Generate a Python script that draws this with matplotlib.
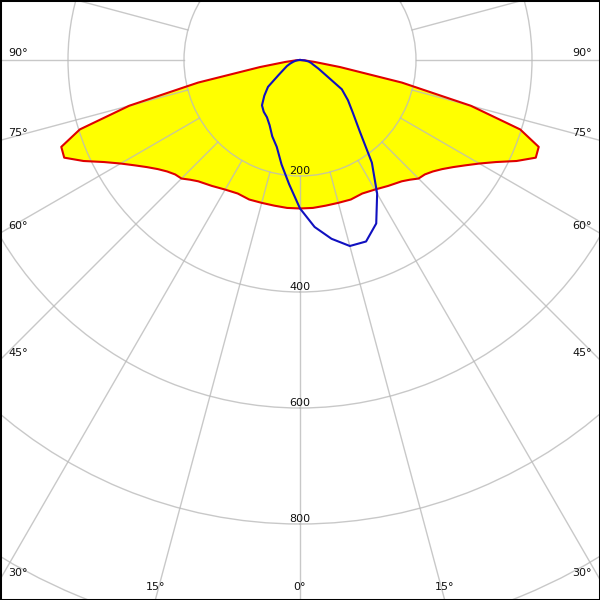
import numpy as np
import matplotlib
matplotlib.use('Agg')
import matplotlib.pyplot as plt
from matplotlib.patches import Rectangle

# ---------------- data: luminous intensity (cd) vs gamma angle (deg) ----------------
red_gamma = [0, 5, 10, 15, 20, 25, 30, 35, 40, 42.5, 45, 47.5, 50, 52.5, 55, 57.5,
             60, 62.5, 65, 67.5, 70, 72.5, 75, 77.5, 80, 82.5, 85, 90]
red_c0 = [256, 256, 255, 255, 256, 254, 258, 265, 273, 280, 289, 292, 299, 309, 322, 338,
          357, 381, 412, 440, 438, 398, 305, 180, 70, 25, 8, 0]
red_c180 = [256, 256, 255, 255, 256, 254, 258, 265, 273, 280, 289, 292, 299, 309, 322, 338,
            357, 381, 412, 440, 438, 398, 305, 180, 70, 25, 8, 0]

blue_gamma = [0, 5, 10, 15, 20, 25, 30, 35, 40, 45, 50, 55, 60, 65, 70, 75, 80, 85, 90]
blue_c90 = [256, 289, 313, 332, 333, 311, 266, 216, 160, 129, 108, 88, 50, 35, 25, 20, 15, 8, 0]
blue_c270 = [256, 215, 183, 155, 140, 124, 114, 109, 102, 87, 72, 45, 32, 25, 18, 12, 8, 4, 0]

radial_labels = [200, 400, 600, 800]
grid_circles = [200, 400, 600, 800, 1000]
angle_labels = [0, 15, 30, 45, 60, 75, 90]

# ---------------- layout ----------------
W = H = 600
CX, CY = 300, 60          # pole position in pixels (from top-left)
PX_PER_CD = 0.58
RMAX = 1100
R_PX = RMAX * PX_PER_CD

fig = plt.figure(figsize=(6, 6), dpi=100)
fig.patch.set_facecolor('white')
ax = fig.add_axes([(CX - R_PX) / W, (H - CY - R_PX) / H, 2 * R_PX / W, 2 * R_PX / H],
                  projection='polar')
ax.set_theta_zero_location('S')
ax.set_theta_direction(1)
ax.set_ylim(0, RMAX)
ax.spines['polar'].set_visible(False)
ax.set_facecolor('white')
ax.set_axisbelow(False)

# circles
ax.set_rgrids(grid_circles, labels=[''] * len(grid_circles))
ax.yaxis.grid(True, color='#bbbbbb', alpha=0.8, lw=1.0)
ax.xaxis.grid(False)
ax.set_xticks([])
ax.set_yticklabels([])

# radial lines every 15 deg, starting at the first circle
for a in range(0, 360, 15):
    t = np.deg2rad(a)
    ax.plot([t, t], [grid_circles[0], RMAX], color='#bbbbbb', alpha=0.8, lw=1.0, zorder=2.5)

# C0-C180 plane (filled)
g = np.asarray(red_gamma, dtype=float)
theta_r = np.deg2rad(np.concatenate([-g[::-1], g[1:]]))
r_r = np.concatenate([np.asarray(red_c180)[::-1], np.asarray(red_c0)[1:]])
ax.fill(theta_r, r_r, color='#ffff00', zorder=1, lw=0)
ax.plot(theta_r, r_r, color='#e00000', lw=1.5, zorder=3)

# C90-C270 plane
gb = np.asarray(blue_gamma, dtype=float)
theta_b = np.deg2rad(np.concatenate([-gb[::-1], gb[1:]]))
r_b = np.concatenate([np.asarray(blue_c270)[::-1], np.asarray(blue_c90)[1:]])
ax.plot(theta_b, r_b, color='#1010c0', lw=1.5, zorder=3)

# radial value labels
for r in radial_labels:
    ax.text(0, r, str(r), ha='center', va='bottom', fontsize=8, color='#111111', zorder=5)

# angle labels along the figure edge
for a in angle_labels:
    sides = [1] if a == 0 else [-1, 1]
    for s in sides:
        dx = s * np.sin(np.deg2rad(a))
        dy = np.cos(np.deg2rad(a))
        tx = np.inf if abs(dx) < 1e-9 else ((W - CX) / dx if dx > 0 else -CX / dx)
        ty = np.inf if dy < 1e-9 else (H - CY) / dy
        if ty <= tx:
            px, py = CX + dx * ty, H - 13
        else:
            px = 18 if s < 0 else W - 18
            py = CY + dy * tx - 7
        fig.text(px / W, 1 - py / H, f'{a}°', ha='center', va='center',
                 fontsize=8, color='#111111')

fig.add_artist(Rectangle((0, 0), 1, 1, transform=fig.transFigure, fill=False,
                         edgecolor='black', lw=2.2))

fig.savefig('out.png', dpi=100)
